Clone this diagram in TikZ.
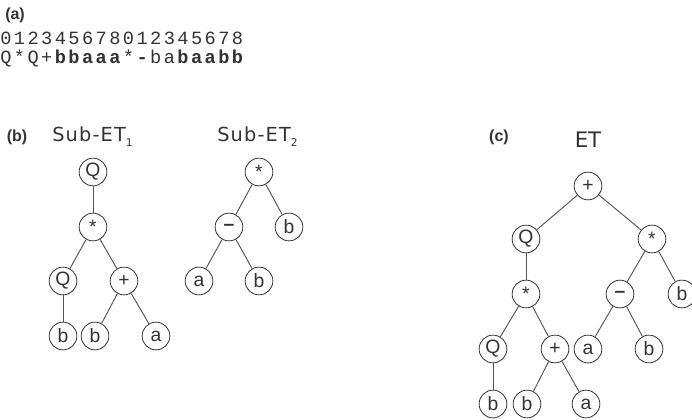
\documentclass[tikz,border=0pt]{standalone}
\usepackage{fontspec}
\setmainfont{Liberation Sans}
\newfontfamily\labelfont{DejaVu Sans}
\newfontfamily\widelabelfont[LetterSpace=6]{DejaVu Sans}
\newfontfamily\codefont[LetterSpace=13]{Liberation Mono}
\definecolor{ink}{HTML}{333333}
\definecolor{edgegray}{HTML}{555555}
\begin{document}
\begin{tikzpicture}[x=0.75pt,y=-0.75pt,
  tn/.style={circle,draw=ink,line width=0.6pt,minimum size=20.8pt,inner sep=0pt,
             font=\fontsize{14.5}{16}\selectfont,text=ink},
  edge/.style={draw=edgegray,line width=0.7pt},
  panel/.style={font=\fontsize{12}{14}\selectfont\bfseries,text=ink,inner sep=0pt},
  title/.style={font=\labelfont\fontsize{16}{18}\selectfont,text=ink,inner sep=0pt},
  subtitle/.style={font=\widelabelfont\fontsize{14.5}{16}\selectfont,text=ink,inner sep=0pt,anchor=west},
  code/.style={font=\codefont\fontsize{14}{15}\selectfont,text=ink,inner sep=0pt,
               text height=9pt,text depth=0.5pt,anchor=base west}]
\useasboundingbox (0,0) rectangle (692,419);
\clip (0,0) rectangle (692,419);

% (a) the encoded string and its positions
\node[panel,anchor=west] (pa) at (5,15) {(a)};
\node[code] (idx) at (0,44) {012345678012345678};
\node[code] (gene) at (0,63) {Q*Q+\textbf{bbaaa}*\textbf{-}ba\textbf{baabb}};

% (b) the two sub-trees
\node[panel] (pb) at (17,137) {(b)};
\node[subtitle] (t1) at (52,137) {Sub-ET\raisebox{-0.45ex}{\fontsize{8}{9}\selectfont 1}};
\node[subtitle] (t2) at (217,137) {Sub-ET\raisebox{-0.45ex}{\fontsize{8}{9}\selectfont 2}};

\node[tn] (s1) at (93,172) {Q};
\node[tn] (s2) at (93,227) {*};
\node[tn] (s3) at (63,281) {Q};
\node[tn] (s4) at (124,281) {+};
\node[tn] (s5) at (63,336) {b};
\node[tn] (s6) at (95,336) {b};
\node[tn] (s7) at (156,336) {a};
\draw[edge] (s1) -- (s2);
\draw[edge] (s2) -- (s3);
\draw[edge] (s2) -- (s4);
\draw[edge] (s3) -- (s5);
\draw[edge] (s4) -- (s6);
\draw[edge] (s4) -- (s7);

\node[tn] (u1) at (259,172) {*};
\node[tn] (u2) at (229,227) {\textbf{--}};
\node[tn] (u3) at (289,227) {b};
\node[tn] (u4) at (199,281) {a};
\node[tn] (u5) at (259,281) {b};
\draw[edge] (u1) -- (u2);
\draw[edge] (u1) -- (u3);
\draw[edge] (u2) -- (u4);
\draw[edge] (u2) -- (u5);

% (c) the full expression tree
\node[panel] (pc) at (499,137) {(c)};
\node[title] (t3) at (588,140) {ET};

\node[tn] (e1) at (588,186) {+};
\node[tn] (e2) at (526,239) {Q};
\node[tn] (e3) at (652,239) {*};
\node[tn] (e4) at (526,294) {*};
\node[tn] (e5) at (620,294) {\textbf{--}};
\node[tn] (e6) at (682,294) {b};
\node[tn] (e7) at (493,349) {Q};
\node[tn] (e8) at (555,349) {+};
\node[tn] (e9) at (588,349) {a};
\node[tn] (e10) at (649,349) {b};
\node[tn] (e11) at (493,404) {b};
\node[tn] (e12) at (527,404) {b};
\node[tn] (e13) at (586,404) {a};
\draw[edge] (e1) -- (e2);
\draw[edge] (e1) -- (e3);
\draw[edge] (e2) -- (e4);
\draw[edge] (e3) -- (e5);
\draw[edge] (e3) -- (e6);
\draw[edge] (e4) -- (e7);
\draw[edge] (e4) -- (e8);
\draw[edge] (e5) -- (e9);
\draw[edge] (e5) -- (e10);
\draw[edge] (e7) -- (e11);
\draw[edge] (e8) -- (e12);
\draw[edge] (e8) -- (e13);
\end{tikzpicture}
\end{document}
